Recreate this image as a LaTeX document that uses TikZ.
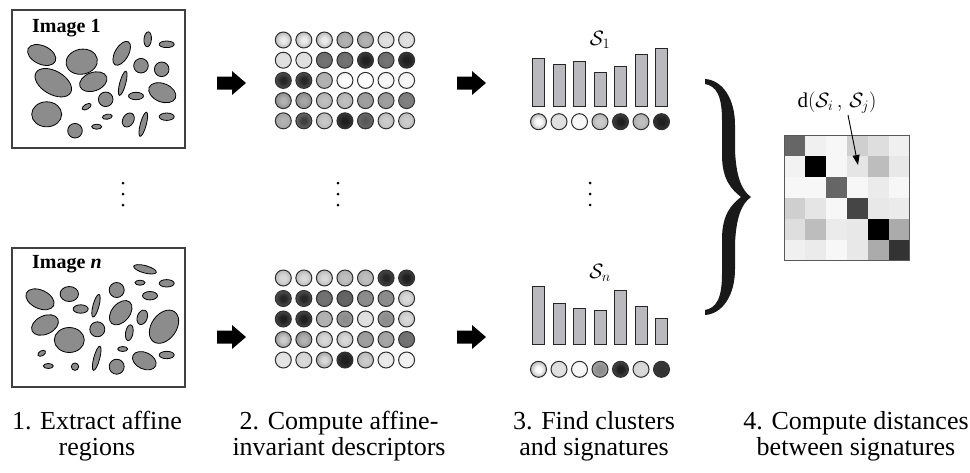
\documentclass[tikz,border=0pt]{standalone}
\usepackage{fontspec}
\setmainfont{Liberation Serif}
\usetikzlibrary{arrows.meta}

% radial disc shading whose colours are read at each use
\colorlet{dcin}{white}
\colorlet{dcout}{gray}
\pgfdeclareradialshading[dcin,dcout]{disc}{\pgfpoint{0bp}{0bp}}{%
  color(0bp)=(dcin); color(8bp)=(dcin); color(50bp)=(dcout)}

\definecolor{barfill}{RGB}{186,186,190}

% one shaded descriptor disc: x, y, inner black%, outer black%
\newcommand\dsc[4]{%
  \colorlet{dcin}{black!#3}\colorlet{dcout}{black!#4}%
  \shade[shading=disc,draw=black!82,line width=1pt] (#1,#2) circle[radius=8pt];}
% a row of discs: x0, dx, y, list of inner/outer
\newcommand\dscrow[4]{%
  \foreach \pin/\pout [count=\k from 0] in {#4} {\dsc{#1+#2*\k}{#3}{\pin}{\pout}}}
% an elliptic region: cx, cy, x radius, y radius, angle
\newcommand\blob[5]{%
  \draw[region,rotate around={#5:(#1,#2)}] (#1,#2) ellipse[x radius=#3pt, y radius=#4pt];}
% thick block arrow with its tip at (x,y)
\newcommand\blockarrow[2]{%
  \fill[black] (#1-29,#2-6.5) -- (#1-14,#2-6.5) -- (#1-14,#2-12) -- (#1,#2)
    -- (#1-14,#2+12) -- (#1-14,#2+6.5) -- (#1-29,#2+6.5) -- cycle;}

\tikzset{
  region/.style={fill=black!45,draw=black,line width=0.8pt},
  imgbox/.style={draw=black!75,line width=1.1pt},
  bar/.style={fill=barfill,draw=black!85,line width=1pt},
  caption/.style={align=center,font=\fontsize{26}{26}\selectfont},
  imglabel/.style={anchor=base west,inner sep=0pt,font=\fontsize{20}{24}\selectfont\bfseries},
  siglabel/.style={font=\fontsize{21}{24}\selectfont},
  vdot/.style={fill=black}
}

\begin{document}
\begin{tikzpicture}[x=1pt,y=-1pt]
\useasboundingbox (0,0) rectangle (970,472);

% ---------- column 1: images with affine regions ----------
\draw[imgbox] (12,10) rectangle (185,148);
\node[imglabel] (img1) at (32,32) {Image 1};
\blob{41.7}{55}{15}{9.2}{-25}
\blob{81.7}{61.7}{15.8}{12.5}{10}
\blob{53.3}{82.7}{20}{11.7}{-30}
\blob{93.3}{81.7}{14.2}{9.2}{20}
\blob{121.7}{53.3}{13.3}{6.7}{60}
\blob{147.7}{39.3}{3.7}{7.5}{-5}
\blob{166.7}{44.3}{7.5}{3.3}{0}
\blob{141}{65.7}{7.3}{7.3}{0}
\blob{161.7}{69.3}{7.3}{7.3}{0}
\blob{122.7}{83.3}{12.5}{3}{75}
\blob{162.3}{92.7}{14.2}{9.2}{-22}
\blob{136}{96}{7.5}{3.7}{0}
\blob{105.7}{99.3}{7.3}{7.3}{0}
\blob{46.7}{114.3}{15}{12.5}{0}
\blob{86.7}{106.7}{5}{2.5}{30}
\blob{107.3}{116.7}{5}{2.5}{10}
\blob{96.7}{126.7}{5}{2.5}{0}
\blob{128.3}{120}{7.5}{5.5}{60}
\blob{143.3}{124.3}{12.5}{3}{75}
\blob{166.7}{116.7}{7.5}{3.7}{0}
\blob{75}{130.7}{7.3}{7.3}{0}

\draw[imgbox] (12,248) rectangle (185,387);
\node[imglabel] (imgn) at (32,268) {Image \textit{n}};
\blob{145}{269.3}{11.7}{3.7}{-15}
\blob{140}{282.7}{5}{2.5}{0}
\blob{166.7}{283.3}{7.5}{3.7}{0}
\blob{40}{299.3}{15}{9.2}{-25}
\blob{69.3}{294}{9.2}{7.5}{0}
\blob{116.7}{290}{7.5}{7.5}{0}
\blob{150}{295.7}{7.5}{4.2}{0}
\blob{96}{305.7}{11.7}{3}{75}
\blob{80.7}{309}{7.5}{4.2}{0}
\blob{120.7}{312.7}{14}{9}{50}
\blob{142.3}{317.3}{7.5}{5}{70}
\blob{45}{325}{14.2}{9.2}{25}
\blob{97.3}{329.3}{7.5}{7.5}{0}
\blob{129.3}{332.7}{8}{3.7}{80}
\blob{164}{326.7}{18.3}{12.5}{55}
\blob{69.3}{340}{15}{12.5}{0}
\blob{41.7}{353.3}{4.2}{2.5}{30}
\blob{48.3}{366}{5}{2.5}{0}
\blob{75}{366.7}{3.7}{3.7}{0}
\blob{96.7}{358.3}{12.5}{3}{75}
\blob{122.7}{349}{5}{2.5}{0}
\blob{116.7}{366.7}{7.5}{7.5}{0}
\blob{144.3}{360.7}{12.5}{8.3}{-25}
\blob{166.7}{355}{7.5}{3.7}{0}

% ---------- block arrows ----------
\blockarrow{246}{83}
\blockarrow{486}{83}
\blockarrow{246}{337}
\blockarrow{486}{337}

% ---------- vertical ellipses ----------
\foreach \x in {123,338,590}
  \foreach \y in {183,194,205}
    \fill[vdot] (\x,\y) circle[radius=1.5pt];

% ---------- column 2: descriptor grids ----------
\dscrow{283.3}{20.55}{40}{8/55,8/55,8/55,30/45,30/45,12/18,12/18}
\dscrow{283.3}{20.55}{60.2}{12/15,12/15,55/62,55/62,88/60,55/62,88/65}
\dscrow{283.3}{20.55}{80.4}{85/45,85/45,30/35,0/12,0/5,3/8,3/8}
\dscrow{283.3}{20.55}{100.6}{30/68,35/62,25/38,25/38,38/42,38/42,50/55}
\dscrow{283.3}{20.55}{120.8}{30/45,75/35,22/38,88/65,65/50,20/35,20/35}

\dscrow{283.3}{20.55}{278}{15/45,15/45,15/45,25/40,25/40,85/55,88/55}
\dscrow{283.3}{20.55}{298.5}{85/45,85/45,55/62,60/66,45/48,45/48,15/35}
\dscrow{283.3}{20.55}{319}{88/50,88/50,30/35,45/35,12/15,45/35,15/32}
\dscrow{283.3}{20.55}{339.5}{20/70,30/62,15/38,15/38,38/42,35/40,55/58}
\dscrow{283.3}{20.55}{360}{10/15,15/22,15/65,88/70,20/40,8/12,5/8}

% ---------- column 3: signatures ----------
\node[siglabel] (s1) at (600,40) {$\mathcal{S}_1$};
\foreach \h [count=\k from 0] in {58.3,64.3,61,72.3,66,54,48.3}
  \draw[bar] (532.5+20.5*\k,\h) rectangle (544.5+20.5*\k,106);
\dscrow{538.5}{20.5}{121.7}{0/65,12/15,3/6,20/42,88/55,25/40,88/68}

\node[siglabel] (sn) at (600,273) {$\mathcal{S}_n$};
\foreach \h [count=\k from 0] in {286.7,303.3,308.3,310.7,290,306,318.3}
  \draw[bar] (532.5+20.5*\k,\h) rectangle (544.5+20.5*\k,344);
\dscrow{538.5}{20.5}{369.3}{0/65,12/15,3/6,45/25,88/50,15/20,80/75}

% ---------- curly brace ----------
\fill[black!90] (705,79) .. controls (722,80) and (735,98) .. (735,125)
  -- (735,150) .. controls (736,175) and (741,190) .. (751,197)
  .. controls (741,204) and (736,219) .. (735,244)
  -- (735,269) .. controls (735,296) and (722,314) .. (705,315)
  -- (705,310) .. controls (716,308) and (722,299) .. (722,274)
  -- (722,239) .. controls (722,214) and (732,204) .. (741,197)
  .. controls (732,190) and (722,180) .. (722,155)
  -- (722,120) .. controls (722,95) and (716,86) .. (705,84) -- cycle;

% ---------- column 4: distance matrix ----------
\foreach \row [count=\r from 0] in {{60,6,3,19,13,6},{5,100,3,10,26,9},{3,3,60,3,8,3},
    {19,10,3,73,9,8},{13,26,8,9,100,33},{6,8,3,9,33,80}}
  \foreach \v [count=\c from 0] in \row
    \fill[black!\v] (784+20.9*\c,135+20.9*\r) rectangle ++(20.9,20.9);
\draw[black!65,line width=0.8pt] (784,135) rectangle (909.4,260.4);
\node[siglabel] (dlab) at (837,103) {$\mathrm{d}(\mathcal{S}_i\,,\,\mathcal{S}_j)$};
\coordinate (dtip) at (858,165);
\draw[line width=0.9pt,-{Triangle[length=10pt,width=7pt]}] (848,115) -- (dtip);

% ---------- step captions ----------
\node[caption] (c1) at (97,436.5) {1. Extract affine\\regions};
\node[caption] (c2) at (339,436.5) {2. Compute affine-\\invariant descriptors};
\node[caption] (c3) at (594,436.5) {3. Find clusters\\and signatures};
\node[caption] (c4) at (856,436.5) {4. Compute distances\\between signatures};
\end{tikzpicture}
\end{document}
